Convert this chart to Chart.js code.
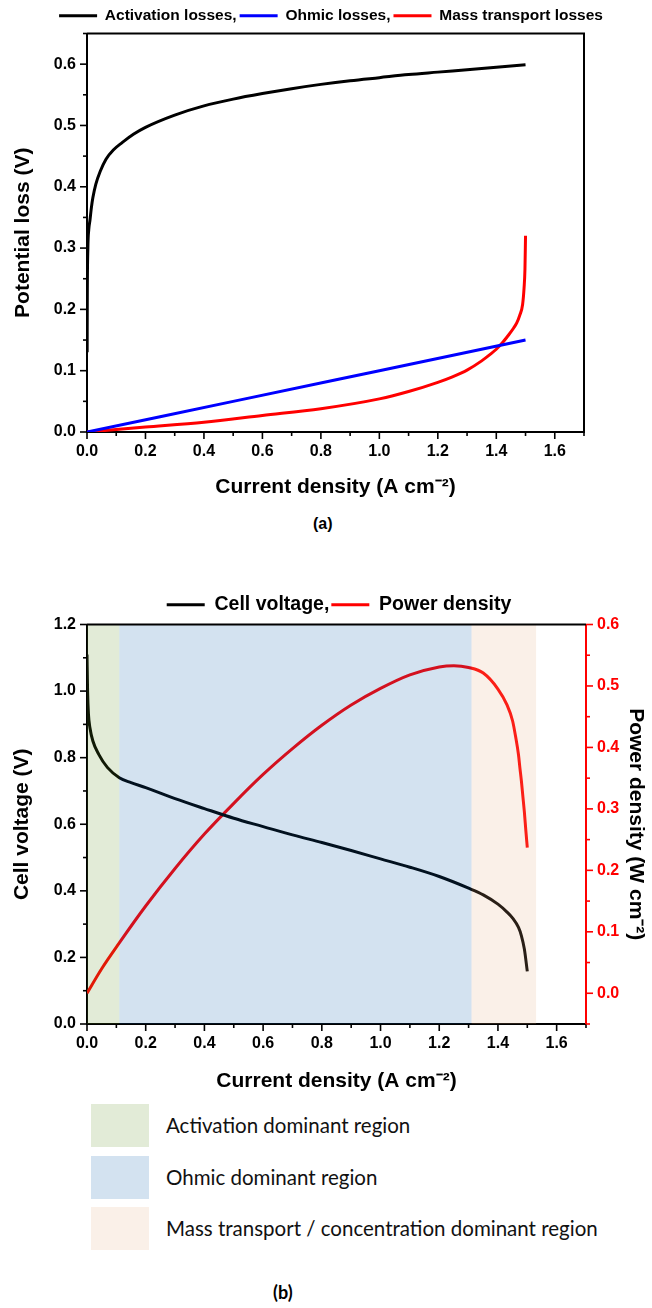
<!DOCTYPE html>
<html>
<head>
<meta charset="utf-8">
<script src="https://cdn.jsdelivr.net/npm/chart.js@4.4.1/dist/chart.umd.min.js"></script>
<style>
  body { margin: 0; background: #fff; width: 652px; height: 1308px; position: relative; overflow: hidden; }
  .wrap { position: absolute; left: 0; }
  .cap { position: absolute; font-weight: bold; color: #000; }
  .swatch { position: absolute; left: 91px; width: 58px; height: 43px; }
  .rtext { position: absolute; left: 166px; font-family: Lato, sans-serif; font-size: 20.5px; color: #111; line-height: 43px; white-space: nowrap; }
</style>
</head>
<body>
<div class="wrap" style="top:5px"><canvas id="lossChart" width="652" height="495"></canvas></div>
<div class="cap" style="left:313px; top:515px; font-family:'Liberation Sans',Arial,sans-serif; font-size:16px;">(a)</div>
<div class="wrap" style="top:593px"><canvas id="cellChart" width="652" height="501"></canvas></div>
<div id="regionLegend"></div>
<div class="cap" style="left:273px; top:1281px; font-family:Lato,sans-serif; font-size:18px;">(b)</div>

<script>
// (a) potential losses vs current density
const actCurrent = [0.0005, 0.001, 0.003, 0.006, 0.01, 0.015, 0.02, 0.03, 0.045, 0.065, 0.09, 0.12, 0.16, 0.2, 0.3, 0.4, 0.5, 0.6, 0.7, 0.8, 0.9, 1.0, 1.1, 1.2, 1.3, 1.4, 1.5];
const actLoss = [0.13, 0.22, 0.30, 0.33, 0.345, 0.366, 0.382, 0.404, 0.425, 0.445, 0.46, 0.472, 0.486, 0.497, 0.517, 0.532, 0.543, 0.552, 0.56, 0.567, 0.573, 0.578, 0.583, 0.587, 0.591, 0.595, 0.599];
const ohmCurrent = [0, 0.5, 1.0, 1.5];
const ohmLoss = [0, 0.05, 0.10, 0.15];
const massCurrent = [0, 0.2, 0.4, 0.6, 0.8, 1.0, 1.1, 1.2, 1.25, 1.3, 1.35, 1.38, 1.4, 1.42, 1.44, 1.46, 1.47, 1.48, 1.49, 1.495, 1.498, 1.5];
const massLoss = [0, 0.008, 0.016, 0.027, 0.038, 0.054, 0.066, 0.081, 0.09, 0.101, 0.116, 0.127, 0.135, 0.145, 0.157, 0.17, 0.178, 0.19, 0.208, 0.235, 0.265, 0.32];

// (b) cell voltage and power density
const cellCurrent = [0, 0.002, 0.005, 0.01, 0.02, 0.04, 0.07, 0.11, 0.15, 0.2, 0.3, 0.4, 0.5, 0.6, 0.7, 0.8, 0.9, 1.0, 1.1, 1.2, 1.3, 1.35, 1.4, 1.43, 1.45, 1.47, 1.48, 1.49, 1.5];
const cellVoltage = [1.11, 1.0, 0.93, 0.89, 0.85, 0.81, 0.77, 0.74, 0.725, 0.71, 0.677, 0.647, 0.618, 0.593, 0.568, 0.545, 0.521, 0.496, 0.471, 0.443, 0.408, 0.388, 0.36, 0.337, 0.318, 0.29, 0.265, 0.225, 0.158];
const powerCurrent = [0, 0.05, 0.11, 0.2, 0.3, 0.4, 0.5, 0.6, 0.7, 0.8, 0.9, 1.0, 1.1, 1.2, 1.25, 1.3, 1.35, 1.4, 1.43, 1.45, 1.46, 1.47, 1.475, 1.48, 1.485, 1.49, 1.495, 1.5];
const powerDensity = [0, 0.04, 0.082, 0.142, 0.203, 0.259, 0.309, 0.356, 0.398, 0.436, 0.469, 0.496, 0.518, 0.531, 0.533, 0.53, 0.521, 0.495, 0.47, 0.443, 0.418, 0.388, 0.366, 0.345, 0.32, 0.295, 0.265, 0.237];

// operating regions shaded in (b)
const regionNames = ['Activation dominant region', 'Ohmic dominant region', 'Mass transport / concentration dominant region'];
const regionFrom = [0, 0.11, 1.31];
const regionTo = [0.11, 1.31, 1.53];
const regionTint = ['rgba(94,144,33,0.18)', 'rgba(11,94,172,0.18)', 'rgba(228,172,128,0.18)'];
const regionSolid = ['rgb(226,235,215)', 'rgb(211,226,240)', 'rgb(250,240,232)'];

const FONT = "'Liberation Sans', Arial, sans-serif";
const pts = (xs, ys) => xs.map((x, i) => ({ x: x, y: ys[i] }));
const fmt = v => Number(v).toFixed(1);

function lineSet(label, data, color, axis) {
  return {
    label: label, data: data, borderColor: color, backgroundColor: color,
    borderWidth: 3, pointRadius: 0, fill: false, cubicInterpolationMode: 'monotone',
    yAxisID: axis || 'y'
  };
}

// legend entries get a trailing comma like the original figure
function legendOpts(size, gap) {
  return {
    position: 'top',
    labels: {
      font: { family: FONT, size: size, weight: 'bold' }, color: '#000',
      boxWidth: 38, boxHeight: 3, padding: gap,
      generateLabels: chart => chart.data.datasets.map((d, i, all) => ({
        text: d.label + (i < all.length - 1 ? ',' : ''),
        fillStyle: d.borderColor, strokeStyle: d.borderColor, lineWidth: 0,
        hidden: false, datasetIndex: i, fontColor: '#000'
      }))
    }
  };
}

// major / minor tick marks drawn outward from the axes
const tickMarks = {
  id: 'tickMarks',
  afterDraw(chart, args, opts) {
    const ctx = chart.ctx;
    ctx.save();
    ctx.lineWidth = 1.6;
    opts.axes.forEach(m => {
      const s = chart.scales[m.id];
      ctx.strokeStyle = m.color || '#000';
      for (let k = 0; k <= m.count; k++) {
        const v = m.start + k * m.step;
        const len = (k % 2 === m.majorOdd) ? 7 : 4;
        const p = s.getPixelForValue(v);
        ctx.beginPath();
        if (s.isHorizontal()) { ctx.moveTo(p, s.top); ctx.lineTo(p, s.top + len); }
        else if (s.position === 'left') { ctx.moveTo(s.right, p); ctx.lineTo(s.right - len, p); }
        else { ctx.moveTo(s.left, p); ctx.lineTo(s.left + len, p); }
        ctx.stroke();
      }
    });
    ctx.restore();
  }
};

const frame = {
  id: 'frame',
  afterDraw(chart, args, opts) {
    const a = chart.chartArea, ctx = chart.ctx;
    ctx.save();
    ctx.strokeStyle = '#000';
    ctx.lineWidth = 2;
    ctx.beginPath();
    ctx.moveTo(a.left, a.top);
    ctx.lineTo(a.right, a.top);
    if (opts.right) ctx.lineTo(a.right, a.bottom);
    ctx.stroke();
    ctx.restore();
  }
};

const regions = {
  id: 'regions',
  afterDatasetsDraw(chart) {
    const a = chart.chartArea, ctx = chart.ctx, x = chart.scales.x;
    ctx.save();
    regionFrom.forEach((f, i) => {
      const x0 = x.getPixelForValue(f), x1 = x.getPixelForValue(regionTo[i]);
      ctx.fillStyle = regionTint[i];
      ctx.fillRect(x0, a.top, x1 - x0, a.bottom - a.top);
    });
    ctx.restore();
  }
};

function xAxis(h, pad) {
  return {
    type: 'linear', min: 0, max: 1.7,
    afterFit: s => { s.height = h; },
    ticks: { stepSize: 0.2, includeBounds: false, callback: fmt, color: '#000', padding: 3, maxRotation: 0,
             font: { family: FONT, size: 16, weight: 'bold' } },
    grid: { display: false, drawTicks: true, tickLength: 7 },
    border: { display: true, color: '#000', width: 2 },
    title: { display: true, text: 'Current density (A cm⁻²)', color: '#000', padding: { top: 0, bottom: pad },
             font: { family: FONT, size: 21, weight: 'bold' } }
  };
}

function yAxis(pos, min, max, step, text, color, width, pad) {
  return {
    type: 'linear', position: pos, min: min, max: max,
    afterFit: s => { s.width = width; },
    ticks: { stepSize: step, includeBounds: false, callback: fmt, color: color, padding: 4,
             font: { family: FONT, size: 16, weight: 'bold' } },
    grid: { display: false, drawTicks: true, tickLength: 7 },
    border: { display: true, color: color, width: 2 },
    title: { display: true, text: text, color: '#000', padding: { top: pad, bottom: 0 },
             font: { family: FONT, size: 21, weight: 'bold' } }
  };
}

new Chart(document.getElementById('lossChart'), {
  type: 'line',
  data: {
    datasets: [
      lineSet('Activation losses', pts(actCurrent, actLoss), '#000000'),
      lineSet('Ohmic losses', pts(ohmCurrent, ohmLoss), '#0000ff'),
      lineSet('Mass transport losses', pts(massCurrent, massLoss), '#ff0000')
    ]
  },
  options: {
    responsive: false, animation: false,
    layout: { padding: { left: 10, right: 0, top: 0, bottom: 0 } },
    plugins: {
      legend: legendOpts(15.5, 3), tooltip: { enabled: false },
      frame: { right: true },
      tickMarks: { axes: [
        { id: 'x', start: 0, step: 0.1, count: 17, majorOdd: 0 },
        { id: 'y', start: 0, step: 0.05, count: 13, majorOdd: 0 }
      ] }
    },
    scales: {
      x: xAxis(68, 0),
      y: yAxis('left', 0, 0.65, 0.1, 'Potential loss (V)', '#000', 77, 0.5),
      yR: { position: 'right', display: true, afterFit: s => { s.width = 68; },
            ticks: { display: false }, grid: { display: false }, border: { display: false } }
    }
  },
  plugins: [tickMarks, frame]
});

new Chart(document.getElementById('cellChart'), {
  type: 'line',
  data: {
    datasets: [
      lineSet('Cell voltage', pts(cellCurrent, cellVoltage), '#000000'),
      lineSet('Power density', pts(powerCurrent, powerDensity), '#ff0000', 'yR')
    ]
  },
  options: {
    responsive: false, animation: false,
    layout: { padding: { left: 0, right: -26, top: 0, bottom: 0 } },
    plugins: {
      legend: legendOpts(19.5, 2), tooltip: { enabled: false },
      frame: { right: false },
      tickMarks: { axes: [
        { id: 'x', start: 0, step: 0.1, count: 17, majorOdd: 0 },
        { id: 'y', start: 0, step: 0.1, count: 12, majorOdd: 0 },
        { id: 'yR', start: -0.05, step: 0.05, count: 13, majorOdd: 1, color: '#ff0000' }
      ] }
    },
    scales: {
      x: xAxis(70, 0),
      y: yAxis('left', 0, 1.2, 0.2, 'Cell voltage (V)', '#000', 87, 10),
      yR: yAxis('right', -0.05, 0.6, 0.1, 'Power density (W cm⁻²)', '#ff0000', 92, 30)
    }
  },
  plugins: [regions, tickMarks, frame]
});

// swatch legend for the shaded regions
const legendBox = document.getElementById('regionLegend');
const swatchTop = [1104, 1156, 1207];
regionNames.forEach((name, i) => {
  const sw = document.createElement('div');
  sw.className = 'swatch';
  sw.style.top = swatchTop[i] + 'px';
  sw.style.background = regionSolid[i];
  legendBox.appendChild(sw);
  const t = document.createElement('div');
  t.className = 'rtext';
  t.style.top = swatchTop[i] + 'px';
  t.textContent = name;
  legendBox.appendChild(t);
});
</script>
</body>
</html>
